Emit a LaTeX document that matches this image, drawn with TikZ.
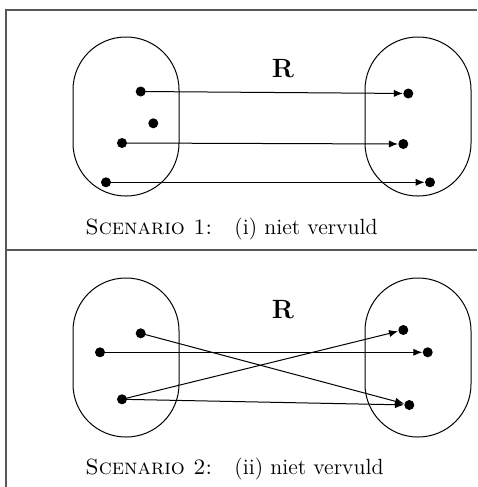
\documentclass[tikz,border=0pt]{standalone}
\usetikzlibrary{arrows.meta}
\begin{document}
\begin{tikzpicture}[x=0.5pt,y=-0.5pt,
  dot/.style={circle,fill=black,inner sep=0pt,minimum size=5pt},
  setbox/.style={draw=black,line width=0.5pt,rounded corners=26.4pt},
  rel/.style={line width=0.5pt,-{Latex[length=4.5pt,width=3.6pt]},shorten <=-2.5pt},
  frameline/.style={draw=black!65,line width=0.8pt},
  caption/.style={anchor=base west,inner sep=0pt,font=\fontsize{11}{13}\selectfont},
  rlabel/.style={anchor=base,inner sep=0pt,font=\fontsize{13.2}{15}\selectfont\bfseries}]
\useasboundingbox (0,0) rectangle (477,487);
% frame
\draw[frameline] (477,10) -- (6,10) -- (6,487);
\draw[frameline] (6,250) -- (477,250);
% ---------- panel 1 ----------
\draw[setbox] (73,37) rectangle (179,196);
\draw[setbox] (365,37) rectangle (471,196);
\node[rlabel] (r1) at (283,77.7) {R};
\node[dot] (a1) at (140.7,91.5) {};
\node[dot] (a2) at (153.3,123.3) {};
\node[dot] (a3) at (122,143) {};
\node[dot] (a4) at (106,182.3) {};
\node[dot] (b1) at (408.3,93.5) {};
\node[dot] (b2) at (403.3,144) {};
\node[dot] (b3) at (430,182.3) {};
\draw[rel] (a1) -- (b1);
\draw[rel] (a3) -- (b2);
\draw[rel] (a4) -- (b3);
\node[caption] (c1) at (85,234.3) {\textsc{Scenario 1:}\quad(i) niet vervuld};
% ---------- panel 2 ----------
\draw[setbox] (73,278) rectangle (179,437);
\draw[setbox] (365,278) rectangle (471,437);
\node[rlabel] (r2) at (283,318) {R};
\node[dot] (d1) at (140.7,333.3) {};
\node[dot] (d2) at (100,352.3) {};
\node[dot] (d3) at (122,399.3) {};
\node[dot] (e1) at (403.3,330) {};
\node[dot] (e2) at (427.7,352.3) {};
\node[dot] (e3) at (409.3,405) {};
\draw[rel] (d1) -- (e3);
\draw[rel] (d2) -- (e2);
\draw[rel] (d3) -- (e1);
\draw[rel] (d3) -- (e3);
\node[caption] (c2) at (85,474.3) {\textsc{Scenario 2:}\quad(ii) niet vervuld};
\end{tikzpicture}
\end{document}
